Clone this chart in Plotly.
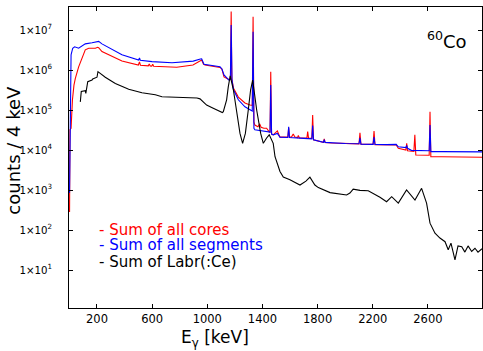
import plotly.graph_objects as go

# ---------------- data ----------------
E_cores = [1, 4, 12, 22, 33, 43, 67, 91, 115, 140, 188, 205, 212, 236, 309, 381,
           500, 508, 515, 572, 579, 586, 597, 604, 611, 671, 778, 896, 959, 972,
           983, 1092, 1106, 1121, 1153, 1163, 1168, 1173, 1178, 1190, 1225, 1273,
           1310, 1326, 1332, 1338, 1345, 1367, 1380, 1390, 1410, 1430, 1450, 1455,
           1460, 1466, 1478, 1508, 1527, 1584, 1590, 1596, 1610, 1623, 1635, 1655,
           1660, 1668, 1700, 1722, 1728, 1734, 1758, 1764, 1770, 1800, 1842, 1848,
           1854, 1900, 2000, 2100, 2107, 2114, 2202, 2209, 2216, 2300, 2370, 2385,
           2440, 2446, 2452, 2498, 2505, 2512, 2530, 2609, 2615, 2621, 2700, 2850,
           2992]
cores = [280, 3.2e4, 3.5e4, 1.8e5, 4.2e5, 6.2e5, 1.2e6, 1.96e6, 3.2e6, 3.5e6,
         3.5e6, 3.7e6, 3.6e6, 2.9e6, 2.15e6, 1.67e6, 1.33e6, 1.6e6, 1.32e6,
         1.27e6, 1.42e6, 1.26e6, 1.25e6, 1.4e6, 1.24e6, 1.2e6, 1.17e6, 1.33e6,
         1.78e6, 1.4e6, 1.33e6, 1.16e6, 1.06e6, 6.7e5, 6.0e5, 5.6e5, 6.0e5, 2.9e7,
         6.0e5, 3.5e5, 2.1e5, 1.5e5, 1.33e5, 1.3e5, 2.15e7, 5.0e4, 4.2e4, 3.8e4,
         4.5e4, 3.7e4, 3.5e4, 3.5e4, 2.8e4, 2.8e4, 9.1e5, 2.5e4, 2.4e4, 3.0e4,
         2.1e4, 2.1e4, 3.6e4, 2.1e4, 2.1e4, 2.5e4, 2.1e4, 2.05e4, 2.3e4, 2.0e4,
         2.0e4, 2.0e4, 2.9e4, 1.95e4, 1.95e4, 7.5e4, 1.8e4, 1.7e4, 1.55e4, 1.9e4,
         1.55e4, 1.5e4, 1.45e4, 1.42e4, 2.7e4, 1.4e4, 1.38e4, 3.0e4, 1.36e4,
         1.33e4, 1.33e4, 1.1e4, 1.0e4, 1.47e4, 9.6e3, 9.2e3, 2.4e4, 7.5e3, 7.5e3,
         7.4e3, 9.1e4, 6.8e3, 6.8e3, 6.7e3, 6.6e3]

E_segs = [1, 4, 12, 24, 38, 67, 115, 164, 212, 236, 309, 381, 502, 508, 514, 599,
          744, 898, 950, 959, 976, 1092, 1106, 1121, 1157, 1167, 1173, 1179, 1190,
          1225, 1273, 1310, 1326, 1332, 1338, 1345, 1450, 1455, 1460, 1466, 1478,
          1508, 1527, 1584, 1590, 1596, 1700, 1758, 1764, 1770, 1842, 1848, 1854,
          1900, 2000, 2100, 2107, 2114, 2202, 2209, 2216, 2300, 2370, 2385, 2440,
          2446, 2452, 2480, 2609, 2615, 2621, 2700, 2992]
segs = [850, 5.6e4, 2.4e6, 3.5e6, 3.8e6, 3.5e6, 4.5e6, 4.8e6, 5.2e6, 4.5e6,
        3.2e6, 2.4e6, 1.78e6, 2.0e6, 1.76e6, 1.62e6, 1.52e6, 1.67e6, 1.88e6,
        1.9e6, 1.39e6, 1.2e6, 1.06e6, 7.5e5, 5.6e5, 5.8e5, 1.33e7, 5.5e5, 3.2e5,
        1.8e5, 1.2e5, 1.0e5, 9.4e4, 9.1e6, 3.5e4, 3.2e4, 2.8e4, 2.8e4, 4.2e5,
        2.5e4, 2.4e4, 2.6e4, 2.1e4, 2.05e4, 3.8e4, 2.05e4, 1.95e4, 1.9e4, 4.1e4,
        1.8e4, 1.55e4, 1.8e4, 1.55e4, 1.5e4, 1.45e4, 1.43e4, 2.0e4, 1.4e4,
        1.38e4, 2.1e4, 1.37e4, 1.36e4, 1.38e4, 1.2e4, 1.15e4, 1.3e4, 1.1e4,
        9.8e3, 9.6e3, 4.2e4, 9.1e3, 9.1e3, 9.0e3]

E_labr = [79, 86, 115, 119, 133, 164, 169, 200, 207, 260, 333, 430, 526, 623, 671,
          778, 898, 925, 947, 995, 1043, 1109, 1116, 1140, 1152, 1166, 1189, 1213,
          1237, 1256, 1276, 1297, 1314, 1329, 1358, 1387, 1406, 1430, 1449, 1478,
          1491, 1527, 1551, 1599, 1672, 1715, 1744, 1780, 1805, 1890, 1950, 2010,
          2034, 2058, 2107, 2167, 2252, 2300, 2337, 2385, 2445, 2506, 2554, 2590,
          2615, 2651, 2687, 2724, 2747, 2767, 2796, 2818, 2845, 2868, 2891, 2917,
          2941, 2963, 2992]
labr = [1.6e5, 2.9e5, 3.05e5, 2.6e5, 5.1e5, 5.6e5, 6.0e5, 6.6e5, 9.1e5, 6.6e5,
        4.6e5, 3.3e5, 2.7e5, 2.4e5, 2.15e5, 2.1e5, 2.1e5, 2.0e5, 1.9e5, 1.33e5,
        1.1e5, 8.6e4, 9.1e4, 1.8e5, 3.8e5, 7.1e5, 3.2e5, 1.0e5, 2.6e4, 1.47e4,
        2.6e4, 1.0e5, 3.2e5, 5.6e5, 1.0e5, 2.6e4, 1.47e4, 2.0e4, 2.4e4, 1.47e4,
        6.8e3, 2.9e3, 2.1e3, 1.8e3, 1.33e3, 1.67e3, 2.1e3, 1.33e3, 1.15e3, 860,
        800, 750, 840, 1050, 980, 960, 660, 510, 680, 470, 1000, 560, 1100, 470,
        148, 83, 63, 51, 32, 47, 18, 40, 38, 28, 40, 29, 35, 28, 34]

series_names = ["Sum of all cores", "Sum of all segments", "Sum of Labr(:Ce)"]
x_ticks = [200, 600, 1000, 1400, 1800, 2200, 2600]
y_exponents = [1, 2, 3, 4, 5, 6, 7]
source_label = "<sup>60</sup>Co"
x_title = "E<sub>γ</sub> [keV]"
y_title = "counts / 4 keV"

# ---------------- figure ----------------
FONT = "DejaVu Sans"
fig = go.Figure()
fig.add_trace(go.Scatter(x=E_cores, y=cores, mode="lines", name=series_names[0],
                         line=dict(color="#ff0000", width=1.1)))
fig.add_trace(go.Scatter(x=E_segs, y=segs, mode="lines", name=series_names[1],
                         line=dict(color="#0000ff", width=1.1)))
fig.add_trace(go.Scatter(x=E_labr, y=labr, mode="lines", name=series_names[2],
                         line=dict(color="#000000", width=1.1)))

colors = ["#ff0000", "#0000ff", "#000000"]
leg_y = [2.0, 1.625, 1.21]
for name, c, yy in zip(series_names, colors, leg_y):
    fig.add_annotation(x=200, y=yy, xref="x", yref="y", text="- " + name,
                       showarrow=False, xanchor="left", yanchor="middle",
                       font=dict(family=FONT, size=15, color=c))

fig.add_annotation(x=0.862, y=0.89, xref="paper", yref="paper", text=source_label,
                   showarrow=False, xanchor="left", yanchor="middle",
                   font=dict(family=FONT, size=18, color="black"))

# axis titles as annotations (fixed positions)
fig.add_annotation(x=0.3535, y=-0.058, xref="paper", yref="paper", text=x_title,
                   showarrow=False, xanchor="center", yanchor="top",
                   font=dict(family=FONT, size=17, color="black"))
fig.add_annotation(x=-0.133, y=0.523, xref="paper", yref="paper", text=y_title,
                   showarrow=False, xanchor="center", yanchor="middle", textangle=-90,
                   font=dict(family=FONT, size=18, color="black"))

fig.update_layout(
    width=483, height=351,
    margin=dict(l=69, r=1, t=7, b=43),
    paper_bgcolor="white", plot_bgcolor="white",
    showlegend=False,
    font=dict(family=FONT, color="black"),
    xaxis=dict(range=[-3, 2992], tickvals=x_ticks,
               ticktext=[str(v) for v in x_ticks],
               ticks="inside", ticklen=4, tickcolor="black",
               showline=True, linecolor="black", linewidth=1, mirror="ticks",
               showgrid=False, zeroline=False, automargin=False,
               tickfont=dict(family=FONT, size=11.5)),
    yaxis=dict(type="log", range=[0.05, 7.575],
               tickvals=[10 ** e for e in y_exponents],
               ticktext=["1×10<sup>%d</sup>" % e for e in y_exponents],
               ticks="inside", ticklen=4, tickcolor="black",
               showline=True, linecolor="black", linewidth=1, mirror="ticks",
               showgrid=False, zeroline=False, automargin=False,
               tickfont=dict(family=FONT, size=10.2),
               ticklabelstandoff=14),
)

fig.write_html("out.html", config={"displayModeBar": False},
               post_script="document.body.style.margin='0';")
